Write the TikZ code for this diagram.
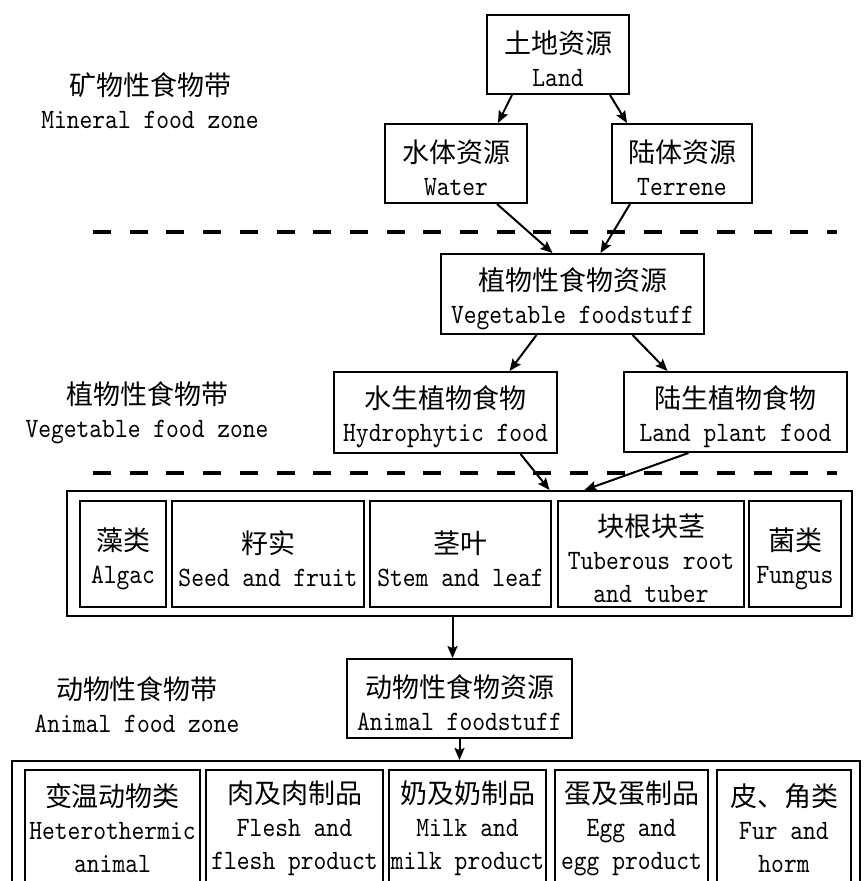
\documentclass[tikz,border=0pt]{standalone}
\usepackage{fontspec}
\setmainfont{lmmono10-regular.otf}[FakeStretch=0.87]
\newfontfamily\cjk{Noto Sans CJK SC}
\usetikzlibrary{arrows.meta}

\newcommand{\zh}[2][32pt]{{\cjk\fontsize{27}{33}\selectfont\rule{0pt}{#1}#2}}

\tikzset{
  resbox/.style={draw, line width=2pt, align=center, inner sep=0pt},
  arr/.style={-{Stealth[length=12pt,width=10pt,inset=2pt]}, line width=2pt},
  zoneline/.style={line width=4pt, dash pattern=on 18pt off 18.7pt},
  zone/.style={align=center}
}

\begin{document}
\begin{tikzpicture}[x=1pt, y=-1pt, font=\fontsize{28}{33}\selectfont]

            \clip (0,0) rectangle (865,881);

            % Mineral food zone
            \node[zone] (minzone) at (150,96) {\zh{矿物性食物带}\\Mineral food zone};
            \node[resbox, minimum width=142pt, minimum height=79pt] (land) at (558,54.5) {\zh{土地资源}\\Land};
            \node[resbox, minimum width=142pt, minimum height=79pt] (water) at (456,163.5) {\zh{水体资源}\\Water};
            \node[resbox, minimum width=140pt, minimum height=79pt] (terrene) at (682,163.5) {\zh{陆体资源}\\Terrene};

            % Zone borders
            \draw[zoneline] (93,232) -- (837,232);
            \draw[zoneline] (93,473) -- (837,473);

            % Vegetable food zone
            \node[zone] (vegzone) at (147,408) {\zh{植物性食物带}\\Vegetable food zone};
            \node[resbox, minimum width=263pt, minimum height=80pt] (veg) at (572.5,294) {\zh{植物性食物资源}\\Vegetable foodstuff};
            \node[resbox, minimum width=223pt, minimum height=81pt] (hydro) at (445.5,412.5) {\zh{水生植物食物}\\Hydrophytic food};
            \node[resbox, minimum width=223pt, minimum height=80pt] (landplant) at (735.5,412) {\zh{陆生植物食物}\\Land plant food};

            % Vegetable food kinds
            \node[resbox, minimum width=785pt, minimum height=125pt] (vegitems) at (459.5,553.5) {};
            \node[resbox, minimum width=86pt, minimum height=106pt] (algae) at (123,554) {\zh{藻类}\\Algac};
            \node[resbox, minimum width=192pt, minimum height=106pt] (seed) at (268,554) {\zh{籽实}\\Seed and fruit};
            \node[resbox, minimum width=181pt, minimum height=106pt] (stem) at (460.5,554) {\zh{茎叶}\\Stem and leaf};
            \node[resbox, minimum width=186pt, minimum height=106pt] (tuber) at (651,554) {\zh{块根块茎}\\Tuberous root\\and tuber};
            \node[resbox, minimum width=92pt, minimum height=106pt] (fungus) at (795,554) {\zh{菌类}\\Fungus};

            % Animal food zone
            \node[zone] (anizone) at (137,700) {\zh{动物性食物带}\\Animal food zone};
            \node[resbox, minimum width=225pt, minimum height=79pt] (animal) at (459.5,698.5) {\zh{动物性食物资源}\\Animal foodstuff};

            % Animal food kinds (cut off at the bottom)
            \node[resbox, minimum width=848pt, minimum height=134pt] (aniitems) at (436,828) {};
            \node[resbox, minimum width=175pt, minimum height=116pt] (hetero) at (112.5,828) {\zh[0pt]{变温动物类}\\Heterothermic\\animal};
            \node[resbox, minimum width=177pt, minimum height=116pt] (flesh) at (294.5,828) {\zh[0pt]{肉及肉制品}\\Flesh and\\flesh product};
            \node[resbox, minimum width=157pt, minimum height=116pt] (milk) at (467.5,828) {\zh[0pt]{奶及奶制品}\\Milk and\\milk product};
            \node[resbox, minimum width=153pt, minimum height=116pt] (egg) at (631.5,828) {\zh[0pt]{蛋及蛋制品}\\Egg and\\egg product};
            \node[resbox, minimum width=134pt, minimum height=116pt] (fur) at (784,828) {\zh[0pt]{皮、角类}\\Fur and\\horm};

            % Arrows
            \draw[arr] ([xshift=-46pt]land.south) -- ([xshift=42pt]water.north);
            \draw[arr] ([xshift=52pt]land.south) -- ([xshift=-55pt]terrene.north);
            \draw[arr] ([xshift=41pt]water.south) -- ([xshift=-20pt]veg.north);
            \draw[arr] ([xshift=-52pt]terrene.south) -- ([xshift=28pt]veg.north);
            \draw[arr] ([xshift=-36pt]veg.south) -- ([xshift=64pt]hydro.north);
            \draw[arr] ([xshift=60pt]veg.south) -- ([xshift=-68pt]landplant.north);
            \draw[arr] ([xshift=75pt]hydro.south) -- ([xshift=90pt]vegitems.north);
            \draw[arr] ([xshift=-47pt]landplant.south) -- ([xshift=125pt]vegitems.north);
            \draw[arr] ([xshift=-7pt]vegitems.south) -- ([xshift=-7pt]animal.north);
            \draw[arr] (animal.south) -- (animal.south |- aniitems.north);

\end{tikzpicture}
\end{document}
